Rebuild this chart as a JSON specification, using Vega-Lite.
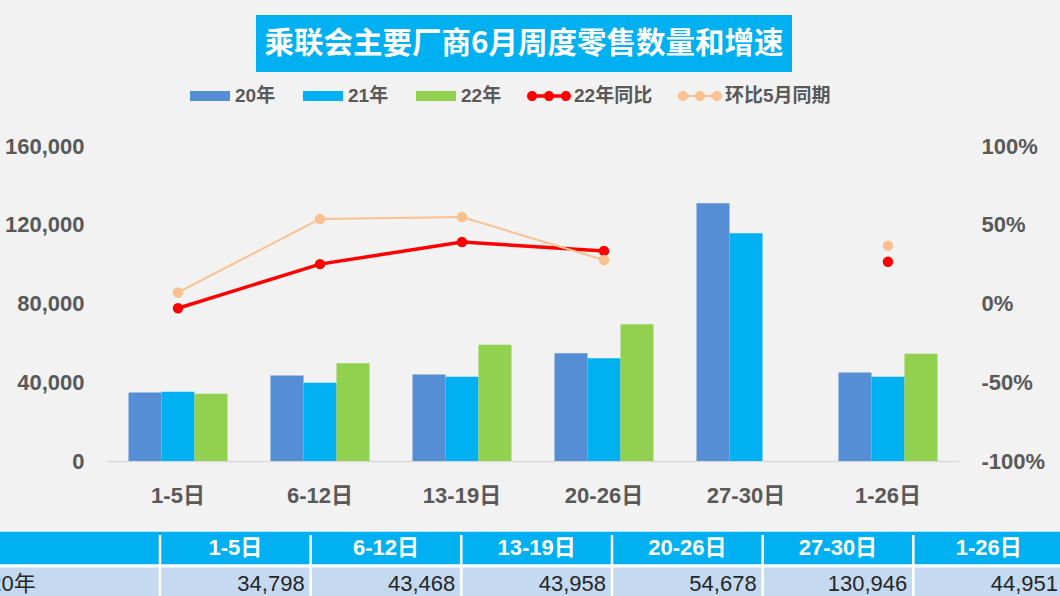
{
  "$schema": "https://vega.github.io/schema/vega-lite/v6.json",
  "background": "#f2f2f2",
  "padding": {"left": 0, "top": 15, "right": 0, "bottom": 0},
  "bounds": "flush",
  "center": true,
  "spacing": 74,
  "config": {
    "view": {"stroke": null},
    "font": "Liberation Sans, Noto Sans CJK SC",
    "axis": {"grid": false, "ticks": false, "title": null, "labelFont": "Liberation Sans, Noto Sans CJK SC", "labelFontSize": 22, "labelFontWeight": "bold", "labelColor": "#595959"}
  },
  "datasets": {
    "bars": [
      {"period": "1-5日", "series": "20年", "sales": 34798},
      {"period": "1-5日", "series": "21年", "sales": 35200},
      {"period": "1-5日", "series": "22年", "sales": 34200},
      {"period": "6-12日", "series": "20年", "sales": 43468},
      {"period": "6-12日", "series": "21年", "sales": 39800},
      {"period": "6-12日", "series": "22年", "sales": 49600},
      {"period": "13-19日", "series": "20年", "sales": 43958},
      {"period": "13-19日", "series": "21年", "sales": 42800},
      {"period": "13-19日", "series": "22年", "sales": 59100},
      {"period": "20-26日", "series": "20年", "sales": 54678},
      {"period": "20-26日", "series": "21年", "sales": 52200},
      {"period": "20-26日", "series": "22年", "sales": 69400},
      {"period": "27-30日", "series": "20年", "sales": 130946},
      {"period": "27-30日", "series": "21年", "sales": 115700},
      {"period": "1-26日", "series": "20年", "sales": 44951},
      {"period": "1-26日", "series": "21年", "sales": 42800},
      {"period": "1-26日", "series": "22年", "sales": 54500}
    ],
    "rates": [
      {"period": "1-5日", "series": "22年同比", "rate": -0.03},
      {"period": "6-12日", "series": "22年同比", "rate": 0.25},
      {"period": "13-19日", "series": "22年同比", "rate": 0.39},
      {"period": "20-26日", "series": "22年同比", "rate": 0.333},
      {"period": "27-30日", "series": "22年同比", "rate": null},
      {"period": "1-26日", "series": "22年同比", "rate": 0.265},
      {"period": "1-5日", "series": "环比5月同期", "rate": 0.07},
      {"period": "6-12日", "series": "环比5月同期", "rate": 0.537},
      {"period": "13-19日", "series": "环比5月同期", "rate": 0.549},
      {"period": "20-26日", "series": "环比5月同期", "rate": 0.276},
      {"period": "27-30日", "series": "环比5月同期", "rate": null},
      {"period": "1-26日", "series": "环比5月同期", "rate": 0.367}
    ]
  },
  "vconcat": [
    {
      "width": 554,
      "height": 57,
      "data": {"values": [{"title": "乘联会主要厂商6月周度零售数量和增速"}]},
      "encoding": {
        "x": {"field": "title", "type": "nominal", "scale": {"range": [0, 536], "paddingInner": 0, "paddingOuter": 0}, "axis": null}
      },
      "layer": [
        {"mark": {"type": "rect", "color": "#00b0f0"}},
        {
          "mark": {"type": "text", "color": "#ffffff", "font": "Noto Sans CJK SC", "fontSize": 29.5, "fontWeight": "bold", "align": "center", "baseline": "middle"},
          "encoding": {"text": {"field": "title", "type": "nominal"}}
        }
      ]
    },
    {
      "width": 852,
      "height": 315,
      "layer": [
        {
          "data": {"name": "bars"},
          "mark": {"type": "bar"},
          "encoding": {
            "x": {
              "field": "period", "type": "nominal",
              "sort": ["1-5日", "6-12日", "13-19日", "20-26日", "27-30日", "1-26日"],
              "scale": {"paddingInner": 0.303, "paddingOuter": 0.1515},
              "axis": {"labelAngle": 0, "labelPadding": 24, "domain": true, "domainColor": "#d9d9d9", "domainWidth": 1.5}
            },
            "xOffset": {"field": "series", "type": "nominal", "sort": ["20年", "21年", "22年"], "scale": {"paddingInner": 0, "paddingOuter": 0}},
            "y": {
              "field": "sales", "type": "quantitative",
              "scale": {"domain": [0, 160000], "nice": false},
              "axis": {"orient": "left", "values": [0, 40000, 80000, 120000, 160000], "labelExpr": "format(datum.value, ',.0f')", "domain": false, "labelPadding": 23}
            },
            "color": {
              "field": "series", "type": "nominal",
              "scale": {"domain": ["20年", "21年", "22年", "22年同比", "环比5月同期"], "range": ["#558ed5", "#00b0f0", "#92d050", "#ff0000", "#fac090"]},
              "legend": {
                "orient": "none", "legendX": 188, "legendY": 59, "direction": "horizontal", "columns": 5, "title": null,
                "symbolSize": 1936, "symbolStrokeWidth": 0, "symbolOpacity": 1, "labelOffset": 3, "columnPadding": 25,
                "labelFont": "Liberation Sans, Noto Sans CJK SC", "labelFontSize": 19, "labelFontWeight": "bold", "labelColor": "#595959", "labelLimit": 300, "labelBaseline": "middle"
              }
            }
          }
        },
        {
          "data": {"name": "rates"},
          "encoding": {
            "x": {"field": "period", "type": "nominal", "sort": ["1-5日", "6-12日", "13-19日", "20-26日", "27-30日", "1-26日"]},
            "y": {
              "field": "rate", "type": "quantitative",
              "scale": {"domain": [-1, 1], "nice": false},
              "axis": {"orient": "right", "values": [-1, -0.5, 0, 0.5, 1], "labelExpr": "round(datum.value * 100) + '%'", "domain": false, "labelPadding": 22}
            },
            "color": {"field": "series", "type": "nominal"}
          },
          "layer": [
            {
              "transform": [{"filter": "datum.period !== '1-26日'"}],
              "mark": {"type": "line"},
              "encoding": {
                "strokeWidth": {"field": "series", "type": "nominal", "scale": {"domain": ["22年同比", "环比5月同期"], "range": [3.5, 2]}, "legend": null}
              }
            },
            {
              "mark": {"type": "point", "filled": true, "size": 110, "opacity": 1}
            },
            {
              "mark": {"type": "point", "filled": true, "opacity": 0},
              "encoding": {
                "shape": {
                  "field": "series", "type": "nominal",
                  "scale": {
                    "domain": ["20年", "21年", "22年", "22年同比", "环比5月同期"],
                    "range": [
                      "M-0.909,-0.227H0.909V0.227H-0.909Z",
                      "M-0.909,-0.227H0.909V0.227H-0.909Z",
                      "M-0.909,-0.227H0.909V0.227H-0.909Z",
                      "M-0.77,-0.08H0.77V0.08H-0.77Z M-1,0A0.23,0.23 0 1,1 -0.54,0A0.23,0.23 0 1,1 -1,0Z M-0.23,0A0.23,0.23 0 1,1 0.23,0A0.23,0.23 0 1,1 -0.23,0Z M0.54,0A0.23,0.23 0 1,1 1,0A0.23,0.23 0 1,1 0.54,0Z",
                      "M-0.77,-0.045H0.77V0.045H-0.77Z M-1,0A0.23,0.23 0 1,1 -0.54,0A0.23,0.23 0 1,1 -1,0Z M-0.23,0A0.23,0.23 0 1,1 0.23,0A0.23,0.23 0 1,1 -0.23,0Z M0.54,0A0.23,0.23 0 1,1 1,0A0.23,0.23 0 1,1 0.54,0Z"
                    ]
                  },
                  "legend": {
                    "orient": "none", "legendX": 188, "legendY": 59, "direction": "horizontal", "columns": 5, "title": null,
                    "symbolSize": 1936, "symbolStrokeWidth": 0, "symbolOpacity": 1, "labelOffset": 3, "columnPadding": 25,
                    "labelFont": "Liberation Sans, Noto Sans CJK SC", "labelFontSize": 19, "labelFontWeight": "bold", "labelColor": "#595959", "labelLimit": 300, "labelBaseline": "middle"
                  }
                }
              }
            }
          ]
        }
      ],
      "resolve": {"scale": {"y": "independent"}}
    },
    {
      "width": 1066,
      "height": 65,
      "view": {"stroke": null, "fill": "#ffffff"},
      "layer": [
        {
          "data": {"values": [{"row": "表头"}, {"row": "20年"}]},
          "mark": {"type": "rect"},
          "encoding": {
            "y": {"field": "row", "type": "nominal", "scale": {"domain": ["表头", "20年"], "range": [-3.3, 65], "paddingInner": 0.088, "paddingOuter": 0}, "axis": null},
            "fill": {"condition": {"test": "datum.row === '表头'", "value": "#00b0f0"}, "value": "#c5d9f1"}
          }
        },
        {
          "data": {"name": "bars"},
          "transform": [{"filter": "datum.series === '20年'"}],
          "mark": {"type": "rule", "color": "#ffffff", "strokeWidth": 2.5},
          "encoding": {
            "x": {"field": "period", "type": "nominal", "bandPosition": 0,
              "scale": {"domain": ["年份", "1-5日", "6-12日", "13-19日", "20-26日", "27-30日", "1-26日"], "range": [9.3, 1064], "paddingInner": 0, "paddingOuter": 0},
              "axis": null}
          }
        },
        {
          "data": {"name": "bars"},
          "transform": [{"filter": "datum.series === '20年'"}],
          "mark": {"type": "text", "color": "#ffffff", "fontSize": 22, "fontWeight": "bold", "align": "center", "baseline": "middle"},
          "encoding": {
            "x": {"field": "period", "type": "nominal"},
            "y": {"datum": "表头", "type": "nominal"},
            "text": {"field": "period", "type": "nominal"}
          }
        },
        {
          "data": {"name": "bars"},
          "transform": [{"filter": "datum.series === '20年'"}],
          "mark": {"type": "text", "color": "#262626", "fontSize": 22, "align": "right", "baseline": "middle", "dx": -6},
          "encoding": {
            "x": {"field": "period", "type": "nominal", "bandPosition": 1},
            "y": {"field": "series", "type": "nominal"},
            "text": {"field": "sales", "type": "quantitative", "format": ","}
          }
        },
        {
          "data": {"values": [{"row": "20年"}]},
          "mark": {"type": "text", "color": "#262626", "fontSize": 22, "align": "left", "baseline": "middle", "dx": -20, "clip": true},
          "encoding": {
            "x": {"datum": "年份", "type": "nominal", "bandPosition": 0},
            "y": {"field": "row", "type": "nominal"},
            "text": {"field": "row", "type": "nominal"}
          }
        }
      ]
    }
  ]
}
